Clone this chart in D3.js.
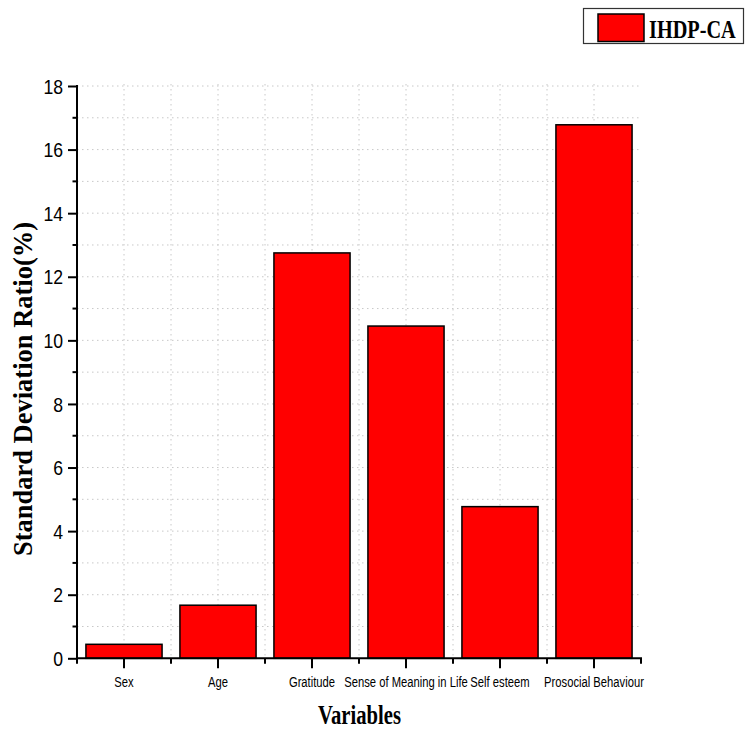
<!DOCTYPE html>
<html><head><meta charset="utf-8">
<script src="https://cdn.jsdelivr.net/npm/d3@7"></script>
<style>body{margin:0;background:#fff}svg{display:block}</style>
</head><body>
<svg id="c" width="745" height="729"></svg>
<script>
const categories = ["Sex","Age","Gratitude","Sense of Meaning in Life","Self esteem","Prosocial Behaviour"];
const values = [0.44, 1.67, 12.75, 10.45, 4.77, 16.78];
const seriesName = "IHDP-CA";
const yTicks = [0,2,4,6,8,10,12,14,16,18];
const yMinorTicks = [1,3,5,7,9,11,13,15,17];
const yTitle = "Standard Deviation Ratio(%)";
const xTitle = "Variables";

const svg = d3.select("#c");
const SQ = 0.78; // horizontal text compression
const SQY = 0.86;
const L = 77, R = 641, T = 86, B = 658.3;
const x = d3.scaleBand().domain(categories).range([L,R]).paddingInner(0.19).paddingOuter(0.095);
const y = d3.scaleLinear().domain([0,18]).range([B,T]);
const step = x.step();
const bounds = d3.range(categories.length+1).map(i => L + i*step);
const centers = categories.map(c => x(c) + x.bandwidth()/2);

// grid
const grid = svg.append("g").attr("stroke","#c8c8c8").attr("stroke-width",1).attr("stroke-dasharray","1.5,3.5");
d3.range(1,19).forEach(v => grid.append("line").attr("x1",L).attr("x2",R-2).attr("y1",y(v)).attr("y2",y(v)));
centers.concat(bounds.slice(1,-1)).forEach(px => grid.append("line").attr("x1",px).attr("x2",px).attr("y1",T-2).attr("y2",B));

// bars
svg.append("g").selectAll("rect").data(categories).join("rect")
  .attr("x", d => x(d)).attr("width", x.bandwidth())
  .attr("y", (d,i) => y(values[i])).attr("height", (d,i) => B - y(values[i]))
  .attr("fill","#ff0000").attr("stroke","#000").attr("stroke-width",1.5);

// y axis
const yAxis = svg.append("g").attr("transform",`translate(${L},0)`)
  .call(d3.axisLeft(y).tickValues(yTicks).tickSize(9).tickPadding(5).tickFormat(d3.format("d")));
yAxis.select(".domain").attr("stroke-width",2).attr("d",`M0,${T-1}V${B+1}`);
yAxis.selectAll(".tick line").attr("stroke-width",2);
yAxis.selectAll(".tick text").attr("font-family","Liberation Sans, Arial, sans-serif").attr("font-size",20.5).attr("fill","#000")
  .attr("transform", `scale(${SQY},1)`)
  .attr("x", -14/SQY).attr("dy","0.35em");
yAxis.append("g").selectAll("line").data(yMinorTicks).join("line")
  .attr("x1",-4.5).attr("x2",0).attr("y1",d=>y(d)).attr("y2",d=>y(d)).attr("stroke","#000").attr("stroke-width",2);

// x axis
const xa = svg.append("g");
xa.append("line").attr("x1",L-1).attr("x2",R+1).attr("y1",B).attr("y2",B).attr("stroke","#000").attr("stroke-width",2);
xa.selectAll(".maj").data(centers).join("line").attr("class","maj")
  .attr("x1",d=>d).attr("x2",d=>d).attr("y1",B).attr("y2",B+10).attr("stroke","#000").attr("stroke-width",2);
xa.selectAll(".min").data(bounds).join("line").attr("class","min")
  .attr("x1",d=>d).attr("x2",d=>d).attr("y1",B).attr("y2",B+5.5).attr("stroke","#000").attr("stroke-width",2);
xa.selectAll("text").data(categories).join("text")
  .attr("transform",(d,i)=>`translate(${centers[i]},687) scale(0.76,1)`)
  .attr("text-anchor","middle").attr("font-family","Liberation Sans, Arial, sans-serif").attr("font-size",14.8).attr("fill","#000")
  .text(d=>d);

// titles
svg.append("text").attr("transform",`translate(359.5,724) scale(${SQ},1)`)
  .attr("text-anchor","middle").attr("font-family","Liberation Serif, Times New Roman, serif").attr("font-weight","bold").attr("font-size",26.5)
  .text(xTitle);
svg.append("text").attr("transform",`translate(32,389) rotate(-90)`)
  .attr("text-anchor","middle").attr("font-family","Liberation Serif, Times New Roman, serif").attr("font-weight","bold").attr("font-size",26.5)
  .text(yTitle);

// legend
const lg = svg.append("g");
lg.append("rect").attr("x",583.5).attr("y",8.5).attr("width",160).attr("height",35).attr("fill","#fff").attr("stroke","#333").attr("stroke-width",1.2);
lg.append("rect").attr("x",598).attr("y",14).attr("width",46).attr("height",27.5).attr("fill","#ff0000").attr("stroke","#000").attr("stroke-width",1.5);
lg.append("text").attr("transform",`translate(649,38) scale(${SQ},1)`)
  .attr("font-family","Liberation Serif, Times New Roman, serif").attr("font-weight","bold").attr("font-size",26)
  .text(seriesName);
</script>
</body></html>
